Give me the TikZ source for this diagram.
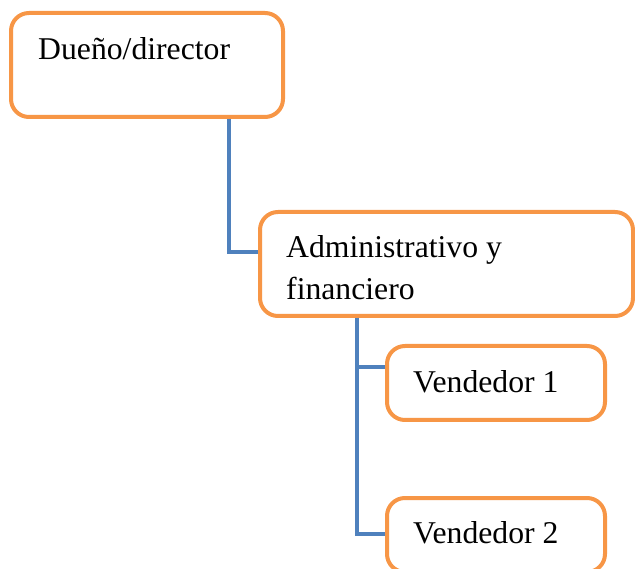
\documentclass[tikz,border=0pt]{standalone}
\usepackage{fontspec}
\setmainfont{Liberation Serif}
\usetikzlibrary{calc}
\definecolor{boxorange}{HTML}{F79646}
\definecolor{linkblue}{HTML}{4F81BD}
\begin{document}
\begin{tikzpicture}[x=1pt,y=-1pt,
 box/.style={draw=boxorange, line width=4pt, rounded corners=18pt, fill=white, anchor=north west, inner sep=0pt, outer sep=0pt},
 lbl/.style={anchor=base west, inner sep=0pt, font=\fontsize{31.7}{42}\selectfont, align=left},
 link/.style={draw=linkblue, line width=3.5pt}]
\useasboundingbox (0,0) rectangle (635,569);
\clip (0,0) rectangle (635,569);
\node[box, minimum width=272pt, minimum height=104pt] (a) at (11,13) {};
\node[box, minimum width=373pt, minimum height=104pt] (b) at (260,212) {};
\node[box, minimum width=218pt, minimum height=74pt] (c) at (387,346) {};
\node[box, minimum width=218pt, minimum height=74pt] (d) at (387,498) {};
\draw[link] ($(a.south west)+(218,2)$) |- ($(b.north west)+(-2,40)$);
\draw[link] ($(b.south west)+(97,2)$) |- ($(c.north west)+(-2,21)$);
\draw[link] ($(b.south west)+(97,2)$) |- ($(d.north west)+(-2,36)$);
\node[lbl] (ta) at ($(a.north west)+(27,47)$) {Dueño/director};
\node[lbl] (tb) at ($(b.north west)+(26,88)$) {Administrativo y\\financiero};
\node[lbl] (tc) at ($(c.north west)+(26,46)$) {Vendedor 1};
\node[lbl] (td) at ($(d.north west)+(26,45)$) {Vendedor 2};
\end{tikzpicture}
\end{document}
